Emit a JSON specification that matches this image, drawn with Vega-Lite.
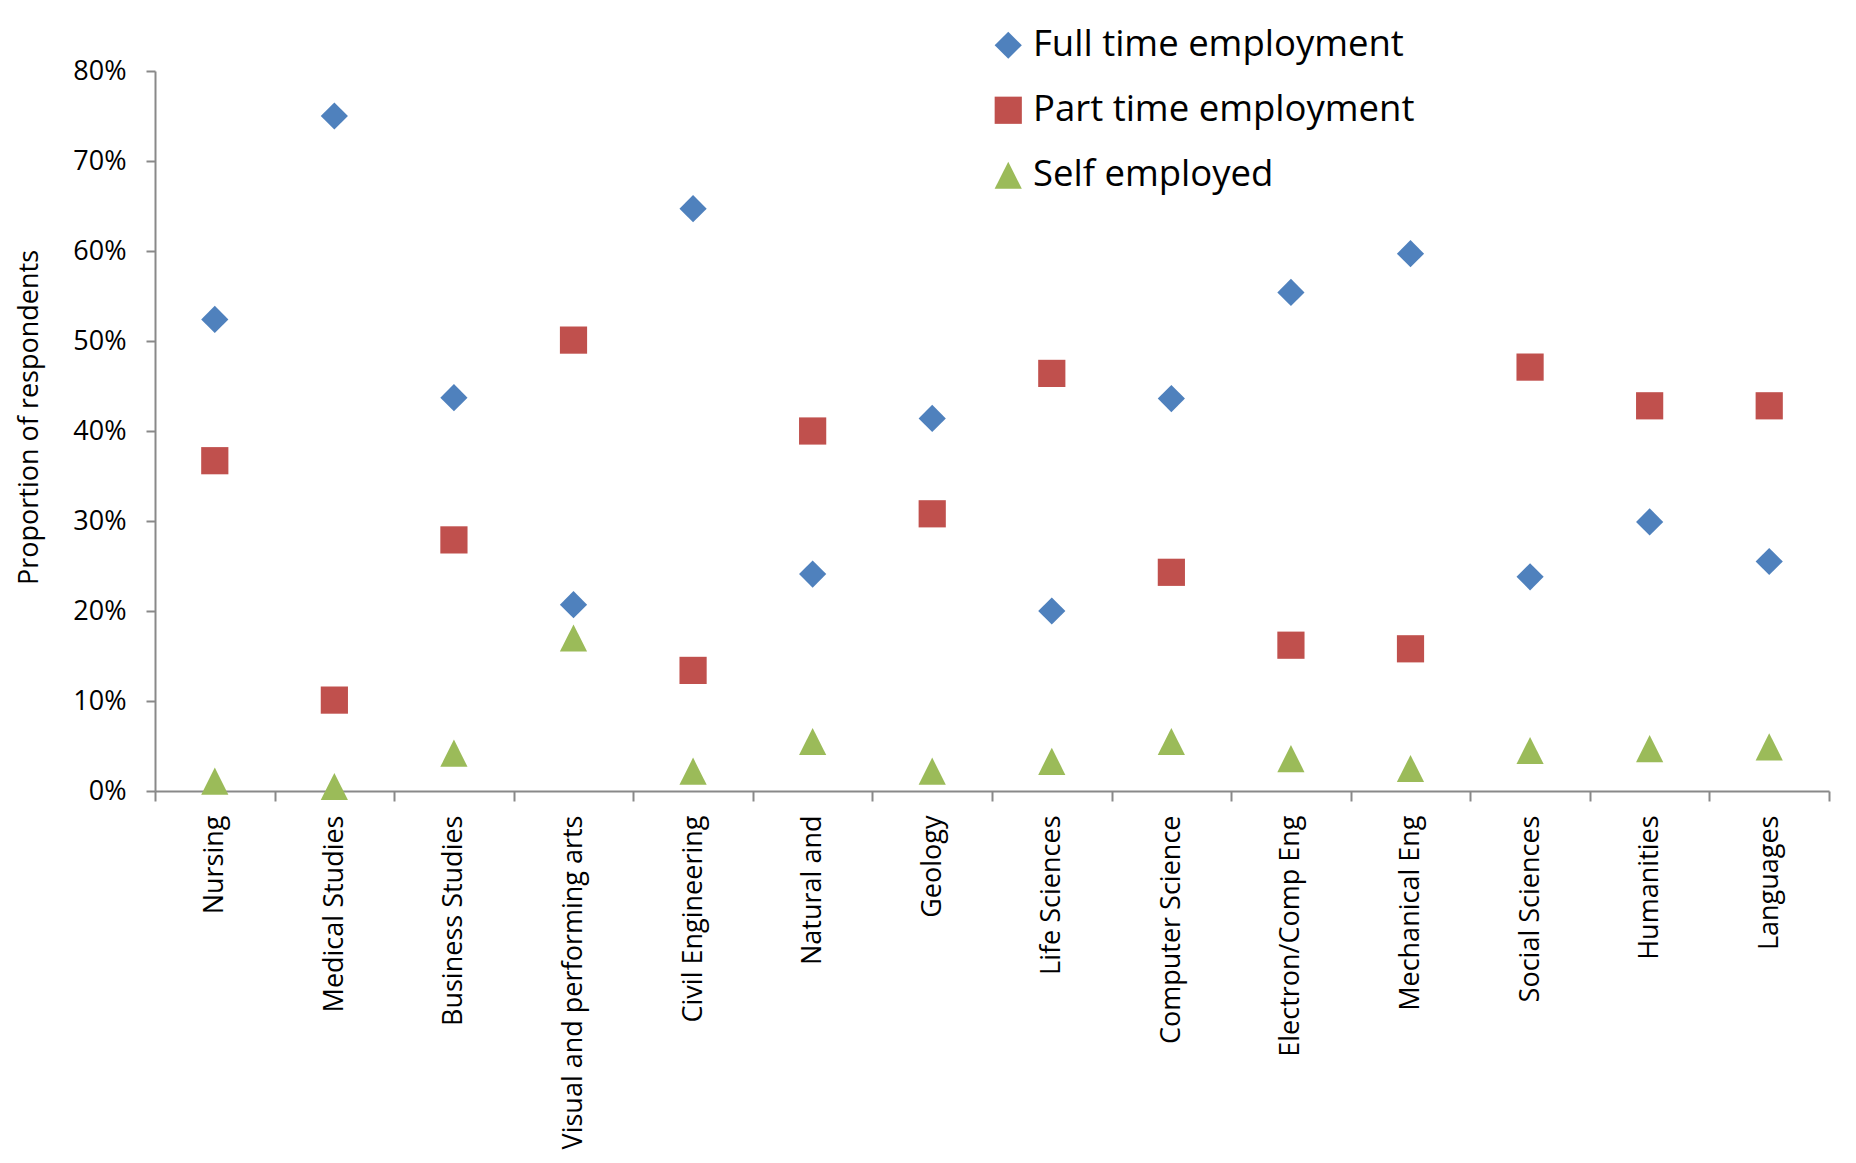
{
  "$schema": "https://vega.github.io/schema/vega-lite/v6.json",
  "autosize": "none",
  "width": 1674,
  "height": 720,
  "padding": {"left": 155, "top": 71, "right": 27, "bottom": 372},
  "background": "white",
  "config": {
    "view": {"stroke": null},
    "font": "Open Sans"
  },
  "data": {
    "values": [
      {"subject": "Nursing", "Full time employment": 0.524, "Part time employment": 0.367, "Self employed": 0.011},
      {"subject": "Medical Studies", "Full time employment": 0.750, "Part time employment": 0.101, "Self employed": 0.005},
      {"subject": "Business Studies", "Full time employment": 0.437, "Part time employment": 0.279, "Self employed": 0.042},
      {"subject": "Visual and performing arts", "Full time employment": 0.207, "Part time employment": 0.501, "Self employed": 0.170},
      {"subject": "Civil Engineering", "Full time employment": 0.647, "Part time employment": 0.134, "Self employed": 0.022},
      {"subject": "Natural and", "Full time employment": 0.241, "Part time employment": 0.400, "Self employed": 0.055},
      {"subject": "Geology", "Full time employment": 0.414, "Part time employment": 0.308, "Self employed": 0.022},
      {"subject": "Life Sciences", "Full time employment": 0.200, "Part time employment": 0.464, "Self employed": 0.033},
      {"subject": "Computer Science", "Full time employment": 0.436, "Part time employment": 0.243, "Self employed": 0.055},
      {"subject": "Electron/Comp Eng", "Full time employment": 0.554, "Part time employment": 0.162, "Self employed": 0.036},
      {"subject": "Mechanical Eng", "Full time employment": 0.597, "Part time employment": 0.158, "Self employed": 0.025},
      {"subject": "Social Sciences", "Full time employment": 0.238, "Part time employment": 0.471, "Self employed": 0.045},
      {"subject": "Humanities", "Full time employment": 0.299, "Part time employment": 0.428, "Self employed": 0.047},
      {"subject": "Languages", "Full time employment": 0.255, "Part time employment": 0.428, "Self employed": 0.049}
    ]
  },
  "transform": [
    {"fold": ["Full time employment", "Part time employment", "Self employed"], "as": ["type", "value"]}
  ],
  "mark": {"type": "point", "filled": true, "opacity": 1, "size": 740, "strokeWidth": 0},
  "encoding": {
    "x": {
      "field": "subject",
      "type": "nominal",
      "sort": null,
      "scale": {"type": "band", "paddingInner": 0, "paddingOuter": 0},
      "axis": {
        "title": null,
        "labelAngle": -90,
        "labelAlign": "right",
        "labelBaseline": "middle",
        "labelFontSize": 27,
        "labelColor": "#000000",
        "labelPadding": 14,
        "labelLimit": 0,
        "tickBand": "extent",
        "tickSize": 10,
        "tickWidth": 2,
        "tickColor": "#898989",
        "domainColor": "#898989",
        "domainWidth": 2,
        "grid": false
      }
    },
    "y": {
      "field": "value",
      "type": "quantitative",
      "scale": {"domain": [0, 0.8], "nice": false, "zero": true},
      "axis": {
        "title": "Proportion of respondents",
        "titleFontSize": 27,
        "titleFontWeight": "normal",
        "titleColor": "#000000",
        "titleX": -126,
        "titleY": 346,
        "titleAngle": -90,
        "titleAlign": "center",
        "titleBaseline": "middle",
        "values": [0, 0.1, 0.2, 0.3, 0.4, 0.5, 0.6, 0.7, 0.8],
        "format": ".0%",
        "labelFontSize": 27,
        "labelColor": "#000000",
        "labelPadding": 20,
        "tickSize": 9,
        "tickWidth": 2,
        "tickColor": "#898989",
        "domainColor": "#898989",
        "domainWidth": 2,
        "grid": false
      }
    },
    "color": {
      "field": "type",
      "type": "nominal",
      "scale": {
        "domain": ["Full time employment", "Part time employment", "Self employed"],
        "range": ["#4F81BD", "#C0504D", "#9BBB59"]
      },
      "legend": {
        "title": null,
        "orient": "none",
        "legendX": 835,
        "legendY": -44,
        "padding": 0,
        "labelFontSize": 36.5,
        "labelColor": "#000000",
        "labelOffset": 6.5,
        "labelLimit": 0,
        "symbolSize": 740,
        "symbolStrokeWidth": 0,
        "rowPadding": 28
      }
    },
    "shape": {
      "field": "type",
      "type": "nominal",
      "scale": {
        "domain": ["Full time employment", "Part time employment", "Self employed"],
        "range": ["diamond", "square", "M0,-1L1,1L-1,1Z"]
      },
      "legend": null
    }
  }
}
